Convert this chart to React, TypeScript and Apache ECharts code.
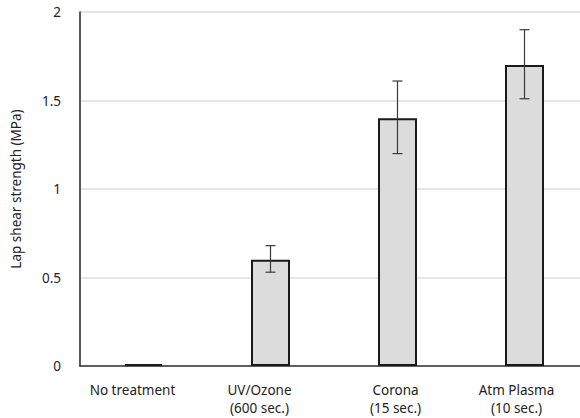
import React, { useEffect, useRef } from "react";
import * as echarts from "echarts";

const categories = ["No treatment", "UV/Ozone\n(600 sec.)", "Corona\n(15 sec.)", "Atm Plasma\n(10 sec.)"];
const strength = [0.01, 0.6, 1.4, 1.7];
const errLow = [0.01, 0.53, 1.2, 1.51];
const errHigh = [0.01, 0.68, 1.61, 1.9];
const yTicks = [0, 0.5, 1, 1.5, 2];
// horizontal nudge (px, leftwards) of each category label
const labelShift = [11, 11, 2, 8];

const FONT = "'Noto Sans', sans-serif";

const richStyles: Record<string, any> = {};
labelShift.forEach((s, i) => {
  richStyles["c" + i] = {
    color: "#222",
    fontFamily: FONT,
    fontSize: 13.5,
    lineHeight: 18,
    padding: [0, s * 2, 0, 0],
  };
});

export default function App() {
  const ref = useRef<HTMLDivElement>(null);

  useEffect(() => {
    const chart = echarts.init(ref.current!, null, { renderer: "svg" });
    chart.setOption({
      animation: false,
      backgroundColor: "#ffffff",
      grid: { left: 80, right: 0, top: 12, bottom: 52, containLabel: false },
      xAxis: {
        type: "category",
        data: categories,
        axisLine: { lineStyle: { color: "#333", width: 1.5 } },
        axisTick: { show: false },
        axisLabel: {
          color: "#222",
          fontFamily: FONT,
          fontSize: 13.5,
          lineHeight: 18,
          margin: 15,
          interval: 0,
          formatter: (v: string, i: number) =>
            v
              .split("\n")
              .map((line) => `{c${i}|${line}}`)
              .join("\n"),
          rich: richStyles,
        },
      },
      yAxis: {
        type: "value",
        min: 0,
        max: 2,
        interval: 0.5,
        name: "Lap shear strength (MPa)",
        nameLocation: "middle",
        nameGap: 57,
        nameTextStyle: { color: "#222", fontFamily: FONT, fontSize: 13.5 },
        axisLine: { show: true, lineStyle: { color: "#222", width: 1.5 } },
        axisTick: { show: false },
        axisLabel: {
          color: "#222",
          fontFamily: FONT,
          fontSize: 13.5,
          margin: 19,
          formatter: (v: number) => (yTicks.includes(v) ? String(v) : ""),
        },
        splitLine: { show: true, lineStyle: { color: "#dedede", width: 1.5 } },
      },
      series: [
        {
          type: "bar",
          data: strength,
          barWidth: 39,
          itemStyle: { color: "#dcdcdc", borderColor: "#1a1a1a", borderWidth: 2 },
        },
        {
          type: "custom",
          data: categories.map((_, i) => [i, errLow[i], errHigh[i]]),
          renderItem: (params: any, api: any) => {
            const x = api.value(0);
            const lo = api.coord([x, api.value(1)]);
            const hi = api.coord([x, api.value(2)]);
            if (Math.abs(lo[1] - hi[1]) < 1) return { type: "group", children: [] };
            const cap = 5;
            const style = { stroke: "#3a3a3a", lineWidth: 1.2 };
            return {
              type: "group",
              children: [
                { type: "line", shape: { x1: hi[0], y1: hi[1], x2: lo[0], y2: lo[1] }, style },
                { type: "line", shape: { x1: hi[0] - cap, y1: hi[1], x2: hi[0] + cap, y2: hi[1] }, style },
                { type: "line", shape: { x1: lo[0] - cap, y1: lo[1], x2: lo[0] + cap, y2: lo[1] }, style },
              ],
            };
          },
          z: 5,
        },
      ],
    });
    return () => chart.dispose();
  }, []);

  return (
    <div style={{ position: "absolute", left: 0, top: 0, width: 580, height: 418, overflow: "hidden" }}>
      <div ref={ref} style={{ width: 588, height: 418 }} />
    </div>
  );
}
